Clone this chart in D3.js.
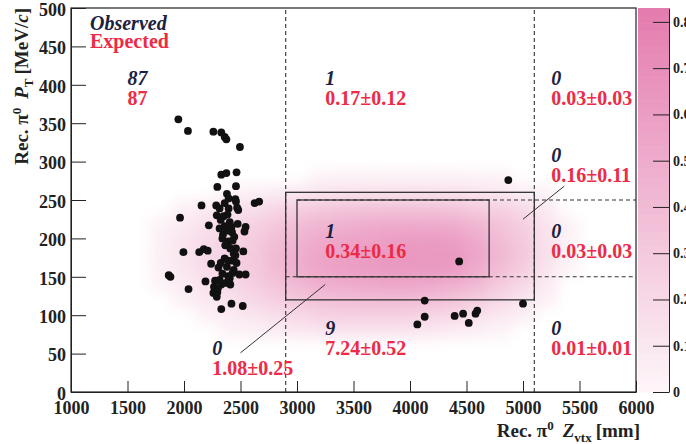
<!DOCTYPE html>
<html>
<head>
<meta charset="utf-8">
<script src="https://cdn.jsdelivr.net/npm/d3@7"></script>
<style>
  body { margin: 0; background: #fff; }
  svg text { font-family: "Liberation Serif", "DejaVu Serif", serif; font-weight: bold; }
</style>
</head>
<body>
<div id="chart"></div>
<script>
// Observed events: Rec. pi0 Z_vtx [mm] and P_T [MeV/c]
const zvtx = [1950, 2035, 2260, 2330, 2360, 2375, 2495, 2330, 2375, 2465, 2295, 2460, 2380, 2455, 2625, 2665,
  1965, 1865, 1880, 1995, 2040, 2135, 2155, 2285, 2315, 2360, 2395, 2460, 2480, 2385, 2290, 2325,
  2220, 2315, 2360, 2420, 2475, 2545, 2535, 2380, 2345, 2425, 2395, 2430, 2410, 2460, 2365, 2175,
  2210, 2525, 2240, 2325, 2360, 2390, 2440, 2430, 2465, 2190, 2275, 2340, 2390, 2430, 2490, 2545,
  2265, 2330, 2370, 2410, 2260, 2295, 2290, 2330, 2420, 2520, 2440, 2380,
  2350, 2405, 2340, 2445, 2305, 2405, 2300, 2455, 2470, 2395, 2315,
  4435, 4870, 4130, 4130, 4065, 4395, 4470, 4520, 4580, 4595, 5000];
const pt = [355, 340, 339, 338, 332, 329, 319, 283, 285, 286, 267, 268, 258, 251, 246, 248,
  227, 152, 150, 182, 134, 182, 243, 243, 239, 246, 239, 248, 237, 231, 230, 224,
  217, 213, 216, 215, 219, 215, 209, 210, 205, 208, 196, 197, 187, 187, 191, 186,
  184, 183, 167, 168, 174, 171, 180, 171, 168, 144, 145, 154, 151, 155, 153, 153,
  137, 140, 142, 140, 129, 130, 124, 108, 115, 112, 159, 163,
  229, 221, 200, 202, 162, 148, 135, 178, 240, 252, 146,
  170, 276, 119, 98, 88, 99, 102, 90, 102, 106, 115];

// Expected signal density (read on a 200 mm x 20 MeV/c grid)
const densityZ = [1800, 2000, 2200, 2400, 2600, 2800, 3000, 3200, 3400, 3600, 3800, 4000, 4200, 4400, 4600, 4800, 5000, 5200, 5400];
const densityPt = [280, 260, 240, 220, 200, 180, 160, 140, 120, 100, 80];
const density = [
  [0, 0, 0, 0, 0, 0, 0, 0.02, 0.03, 0.03, 0.03, 0.03, 0.03, 0.03, 0.02, 0.02, 0, 0, 0],
  [0, 0, 0, 0.02, 0.04, 0.06, 0.10, 0.12, 0.14, 0.15, 0.15, 0.15, 0.15, 0.14, 0.12, 0.10, 0.06, 0.02, 0],
  [0, 0.04, 0.08, 0.12, 0.15, 0.20, 0.26, 0.30, 0.32, 0.34, 0.34, 0.34, 0.34, 0.32, 0.28, 0.24, 0.18, 0.08, 0],
  [0.02, 0.08, 0.14, 0.18, 0.24, 0.30, 0.38, 0.42, 0.46, 0.48, 0.50, 0.50, 0.50, 0.48, 0.42, 0.34, 0.26, 0.12, 0.02],
  [0.04, 0.12, 0.18, 0.22, 0.28, 0.36, 0.44, 0.50, 0.54, 0.56, 0.58, 0.60, 0.60, 0.58, 0.50, 0.38, 0.30, 0.14, 0.03],
  [0.05, 0.12, 0.20, 0.24, 0.30, 0.40, 0.48, 0.54, 0.58, 0.60, 0.62, 0.64, 0.64, 0.62, 0.54, 0.42, 0.32, 0.15, 0.03],
  [0.04, 0.10, 0.18, 0.22, 0.30, 0.38, 0.48, 0.54, 0.58, 0.60, 0.62, 0.62, 0.62, 0.60, 0.50, 0.38, 0.28, 0.12, 0.02],
  [0.02, 0.08, 0.14, 0.20, 0.26, 0.34, 0.42, 0.48, 0.50, 0.52, 0.54, 0.54, 0.52, 0.48, 0.42, 0.30, 0.20, 0.08, 0],
  [0, 0.04, 0.10, 0.14, 0.20, 0.26, 0.32, 0.36, 0.38, 0.40, 0.40, 0.40, 0.38, 0.34, 0.28, 0.20, 0.12, 0.04, 0],
  [0, 0, 0.04, 0.08, 0.12, 0.16, 0.20, 0.24, 0.26, 0.26, 0.26, 0.25, 0.22, 0.20, 0.15, 0.10, 0.05, 0, 0],
  [0, 0, 0, 0.02, 0.04, 0.07, 0.10, 0.12, 0.13, 0.13, 0.13, 0.12, 0.10, 0.07, 0.05, 0.02, 0, 0, 0]
];

// Region counts: observed (italic) and expected (red)
const labelZ = [1500, 3250, 5250, 5250, 3250, 5250, 3250, 5250, 2250];
const labelPt = [400, 400, 400, 300, 200, 200, 74, 74, 48];
const observedCounts = ["87", "1", "0", "0", "1", "0", "9", "0", "0"];
const expectedCounts = ["87", "0.17\u00b10.12", "0.03\u00b10.03", "0.16\u00b10.11", "0.34\u00b10.16",
  "0.03\u00b10.03", "7.24\u00b10.52", "0.01\u00b10.01", "1.08\u00b10.25"];

// Region boundaries
const dashedZ = [2900, 5100];
const dashedPt = [150, 250];
const dashedPtStart = [2900, 3000];
const outerBox = [2900, 5100, 120, 260];
const innerBox = [3000, 4700, 150, 250];
const leaderFrom = [[2500, 51], [5365, 268]];
const leaderTo = [[3250, 140], [5000, 225]];

// Ticks
const xTicks = [1000, 1500, 2000, 2500, 3000, 3500, 4000, 4500, 5000, 5500, 6000];
const yTicks = [0, 50, 100, 150, 200, 250, 300, 350, 400, 450, 500];
const zTicks = [0, 0.1, 0.2, 0.3, 0.4, 0.5, 0.6, 0.7, 0.8];

const width = 686, height = 444;
const x = d3.scaleLinear().domain([1000, 6000]).range([71, 636]);
const y = d3.scaleLinear().domain([0, 500]).range([392, 8]);
const z = d3.scaleLinear().domain([0, 0.83]).range([392, 8]);
const color = d3.scaleLinear().domain([0, 0.83]).range(["#fdf6f9", "#e47bae"]);

const obsColor = "#1c2140";
const expColor = "#ee2a46";
const lineColor = "#333";

const svg = d3.select("#chart").append("svg")
  .attr("width", width).attr("height", height);

const defs = svg.append("defs");
defs.append("clipPath").attr("id", "plot-clip")
  .append("rect").attr("x", 71).attr("y", 8).attr("width", 565).attr("height", 384);
defs.append("filter").attr("id", "smooth")
  .attr("filterUnits", "userSpaceOnUse")
  .attr("x", 0).attr("y", 0).attr("width", width).attr("height", height)
  .append("feGaussianBlur").attr("stdDeviation", 7);

// Density map
const cellW = x(1200) - x(1000);
const cellH = y(0) - y(20);
const cells = [];
density.forEach((row, i) => row.forEach((v, j) => {
  if (v > 0) cells.push({ z: densityZ[j], p: densityPt[i], v: v });
}));
svg.append("g").attr("clip-path", "url(#plot-clip)")
  .append("g").attr("filter", "url(#smooth)")
  .selectAll("rect").data(cells).enter().append("rect")
  .attr("x", (d) => x(d.z) - cellW / 2)
  .attr("y", (d) => y(d.p) - cellH / 2)
  .attr("width", cellW + 0.5)
  .attr("height", cellH + 0.5)
  .attr("fill", (d) => color(d.v));

// Dashed region lines
const lines = svg.append("g").attr("stroke", lineColor).attr("fill", "none");
dashedZ.forEach((v) => {
  lines.append("line")
    .attr("x1", x(v)).attr("x2", x(v)).attr("y1", y(0)).attr("y2", y(500))
    .attr("stroke-width", 1.1).attr("stroke-dasharray", "4,3");
});
dashedPt.forEach((v, i) => {
  lines.append("line")
    .attr("x1", x(dashedPtStart[i])).attr("x2", x(6000)).attr("y1", y(v)).attr("y2", y(v))
    .attr("stroke-width", 1.1).attr("stroke-dasharray", "4,3");
});

// Signal boxes
[outerBox, innerBox].forEach((b) => {
  lines.append("rect")
    .attr("x", x(b[0])).attr("y", y(b[3]))
    .attr("width", x(b[1]) - x(b[0])).attr("height", y(b[2]) - y(b[3]))
    .attr("fill", "none").attr("stroke-width", 1.3);
});

// Leader lines
leaderFrom.forEach((p, i) => {
  lines.append("line")
    .attr("x1", x(p[0])).attr("y1", y(p[1]))
    .attr("x2", x(leaderTo[i][0])).attr("y2", y(leaderTo[i][1]))
    .attr("stroke-width", 1);
});

// Events
svg.append("g").selectAll("circle").data(zvtx).enter().append("circle")
  .attr("cx", (d) => x(d))
  .attr("cy", (d, i) => y(pt[i]))
  .attr("r", 3.9)
  .attr("fill", "#111");

// Region labels
const labels = svg.append("g").attr("font-size", 20);
labels.selectAll(".obs").data(observedCounts).enter().append("text")
  .attr("class", "obs")
  .attr("x", (d, i) => x(labelZ[i]))
  .attr("y", (d, i) => y(labelPt[i]))
  .attr("font-style", "italic")
  .attr("fill", obsColor)
  .text((d) => d);
labels.selectAll(".exp").data(expectedCounts).enter().append("text")
  .attr("class", "exp")
  .attr("x", (d, i) => x(labelZ[i]))
  .attr("y", (d, i) => y(labelPt[i]) + 20)
  .attr("fill", expColor)
  .text((d) => d);

// Legend
labels.append("text").attr("x", 90).attr("y", 30)
  .attr("font-style", "italic").attr("fill", obsColor).text("Observed");
labels.append("text").attr("x", 90).attr("y", 48)
  .attr("fill", expColor).text("Expected");

// Axes
const xAxis = svg.append("g").attr("transform", `translate(0,${y(0)})`);
xAxis.call(d3.axisBottom(x).tickValues(d3.range(1000, 6001, 100).filter((v) => v % 500)).tickSize(-6).tickSizeOuter(0).tickFormat(""));
xAxis.call(d3.axisBottom(x).tickValues(xTicks).tickSize(-11).tickSizeOuter(0).tickPadding(9).tickFormat(d3.format("d")));
xAxis.selectAll("text").attr("font-size", 18).attr("fill", "#222");

const yAxis = svg.append("g").attr("transform", `translate(${x(1000)},0)`);
yAxis.call(d3.axisLeft(y).tickValues(d3.range(0, 501, 10).filter((v) => v % 50)).tickSize(-8).tickSizeOuter(0).tickFormat(""));
yAxis.call(d3.axisLeft(y).tickValues(yTicks).tickSize(-15).tickSizeOuter(0).tickPadding(5).tickFormat(d3.format("d")));
yAxis.selectAll("text").attr("font-size", 18).attr("fill", "#222").attr("dy", "0.4em");
svg.selectAll(".domain").attr("stroke", "#222");
svg.selectAll(".tick line").attr("stroke", "#222");

// Frame
svg.append("rect").attr("x", 71).attr("y", 8).attr("width", 565).attr("height", 384)
  .attr("fill", "none").attr("stroke", "#222").attr("stroke-width", 1.2);

// Axis titles
const xt = svg.append("text").attr("x", 640).attr("y", 437)
  .attr("text-anchor", "end").attr("font-size", 19).attr("fill", "#222");
xt.append("tspan").text("Rec. \u03c0");
xt.append("tspan").attr("dy", -7).attr("font-size", 13).text("0");
xt.append("tspan").attr("dy", 7).attr("dx", 9).attr("font-style", "italic").text("Z");
xt.append("tspan").attr("dy", 5).attr("font-size", 13).text("vtx");
xt.append("tspan").attr("dy", -5).attr("dx", 4).text("[mm]");

const yt = svg.append("text").attr("transform", "translate(28,8) rotate(-90)")
  .attr("text-anchor", "end").attr("font-size", 19).attr("fill", "#222");
yt.append("tspan").text("Rec. \u03c0");
yt.append("tspan").attr("dy", -7).attr("font-size", 13).text("0");
yt.append("tspan").attr("dy", 7).attr("dx", 9).attr("font-style", "italic").text("P");
yt.append("tspan").attr("dy", 5).attr("font-size", 13).text("T");
yt.append("tspan").attr("dy", -5).attr("dx", 4).text("[MeV/");
yt.append("tspan").attr("font-style", "italic").text("c");
yt.append("tspan").text("]");

// Colour bar
const step = 0.83 / 50;
svg.append("g").selectAll("rect").data(d3.range(0, 0.83 - step / 2, step)).enter().append("rect")
  .attr("x", 638)
  .attr("y", (d) => z(d + step))
  .attr("width", 31)
  .attr("height", (d) => z(d) - z(d + step) + 0.5)
  .attr("fill", (d) => color(d + step / 2));
const zAxis = svg.append("g").attr("transform", "translate(669,0)")
  .call(d3.axisRight(z).tickValues(zTicks).tickSize(-16).tickSizeOuter(0).tickPadding(4)
    .tickFormat((d) => (d === 0 ? "0" : d3.format(".1f")(d))));
zAxis.selectAll("text").attr("font-size", 14).attr("fill", "#222");
zAxis.selectAll("line, path").attr("stroke", "#222");
</script>
</body>
</html>
